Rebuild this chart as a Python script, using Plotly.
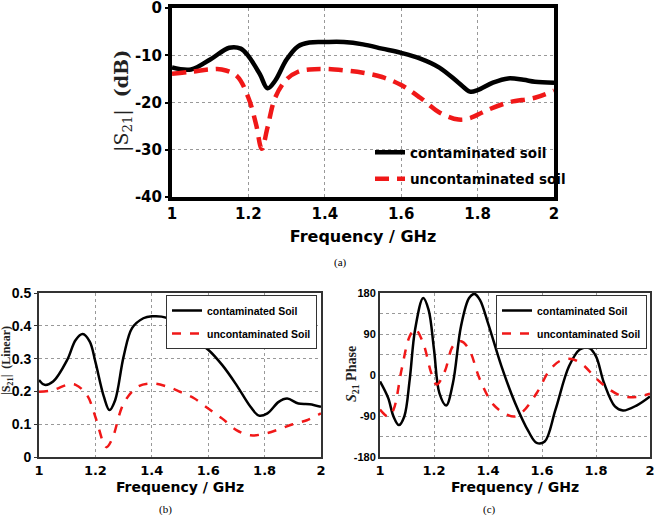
import plotly.graph_objects as go

# ---- (a) |S21| dB ----
fa_c = [1.0, 1.05, 1.1, 1.15, 1.18, 1.2, 1.23, 1.25, 1.27, 1.3, 1.33, 1.36, 1.4, 1.45, 1.5, 1.55, 1.6, 1.65, 1.7, 1.75, 1.78, 1.8, 1.84, 1.88, 1.92, 1.95, 2.0]
sa_c = [-12.6, -13.0, -10.9, -8.4, -8.6, -10.2, -14.0, -17.0, -15.4, -10.9, -8.1, -7.3, -7.2, -7.2, -7.7, -8.6, -9.5, -10.7, -12.6, -15.8, -17.7, -17.4, -15.8, -14.9, -15.2, -15.6, -15.8]
fa_u = [1.0, 1.05, 1.1, 1.13, 1.17, 1.2, 1.22, 1.235, 1.25, 1.27, 1.3, 1.33, 1.36, 1.4, 1.45, 1.5, 1.55, 1.6, 1.65, 1.7, 1.75, 1.78, 1.82, 1.88, 1.95, 2.0]
sa_u = [-13.9, -13.5, -13.0, -13.0, -14.4, -19.0, -24.6, -29.8, -25.3, -19.0, -15.1, -13.5, -13.0, -12.9, -13.2, -13.7, -14.6, -16.3, -19.0, -22.1, -23.6, -23.3, -21.8, -20.0, -19.0, -17.5]

# ---- (b) |S21| linear ----
fb_c = [1.0, 1.02, 1.05, 1.1, 1.13, 1.155, 1.18, 1.2, 1.23, 1.25, 1.27, 1.3, 1.33, 1.37, 1.4, 1.45, 1.5, 1.55, 1.6, 1.65, 1.7, 1.75, 1.78, 1.81, 1.85, 1.88, 1.92, 1.96, 2.0]
sb_c = [0.235, 0.22, 0.23, 0.296, 0.357, 0.375, 0.352, 0.29, 0.184, 0.143, 0.173, 0.306, 0.393, 0.423, 0.429, 0.425, 0.393, 0.357, 0.327, 0.28, 0.22, 0.153, 0.126, 0.133, 0.168, 0.178, 0.163, 0.161, 0.153]
fb_u = [1.0, 1.05, 1.1, 1.13, 1.17, 1.2, 1.23, 1.24, 1.26, 1.3, 1.35, 1.4, 1.45, 1.5, 1.55, 1.6, 1.65, 1.7, 1.75, 1.8, 1.85, 1.9, 1.95, 2.0]
sb_u = [0.199, 0.204, 0.22, 0.22, 0.189, 0.122, 0.04, 0.03, 0.056, 0.163, 0.214, 0.224, 0.216, 0.199, 0.179, 0.148, 0.117, 0.082, 0.066, 0.071, 0.084, 0.1, 0.112, 0.133]

# ---- (c) S21 phase ----
fc_c = [1.0, 1.03, 1.05, 1.07, 1.09, 1.11, 1.13, 1.16, 1.18, 1.2, 1.22, 1.245, 1.27, 1.3, 1.33, 1.35, 1.37, 1.4, 1.45, 1.5, 1.55, 1.58, 1.61, 1.65, 1.7, 1.74, 1.775, 1.8, 1.83, 1.87, 1.9, 1.95, 2.0]
pc_c = [-14, -50, -91, -110, -91, -10, 100, 169, 143, 56, -40, -67, -18, 107, 169, 178, 165, 114, 19, -61, -124, -149, -146, -76, 19, 56, 59, 41, -18, -69, -78, -67, -47]
fc_u = [1.0, 1.03, 1.05, 1.08, 1.11, 1.13, 1.16, 1.19, 1.21, 1.24, 1.27, 1.3, 1.33, 1.37, 1.42, 1.47, 1.5, 1.53, 1.58, 1.63, 1.67, 1.71, 1.75, 1.8, 1.85, 1.9, 1.95, 2.0]
pc_u = [-76, -91, -76, 12, 85, 101, 70, 4, -21, 8, 63, 74, 56, -10, -65, -87, -91, -80, -40, 12, 32, 35, 23, -7, -32, -47, -48, -41]

x_ticks = [1, 1.2, 1.4, 1.6, 1.8, 2]
x_ticktext = ["1", "1.2", "1.4", "1.6", "1.8", "2"]

RED = "#f01818"
W, H = 659, 515

fig = go.Figure()

def dom_x(a, b):
    return [a / W, b / W]

def dom_y(top, bot):
    return [1 - bot / H, 1 - top / H]

fig.add_trace(go.Scatter(x=fa_c, y=sa_c, mode="lines", name="contaminated soil", legendgroup="a1",
                         line=dict(color="black", width=4.5, shape="spline", smoothing=1.0),
                         xaxis="x", yaxis="y", legend="legend"))
fig.add_trace(go.Scatter(x=fa_u, y=sa_u, mode="lines", name="uncontaminated soil", legendgroup="a2",
                         line=dict(color=RED, width=4.5, dash="14px,8px", shape="spline", smoothing=1.0),
                         xaxis="x", yaxis="y", legend="legend"))
fig.add_trace(go.Scatter(x=fb_c, y=sb_c, mode="lines", name="contaminated Soil", legendgroup="b1",
                         line=dict(color="black", width=2.5, shape="spline", smoothing=1.0),
                         xaxis="x2", yaxis="y2", legend="legend2"))
fig.add_trace(go.Scatter(x=fb_u, y=sb_u, mode="lines", name="uncontaminated Soil", legendgroup="b2",
                         line=dict(color=RED, width=2.5, dash="dash", shape="spline", smoothing=1.0),
                         xaxis="x2", yaxis="y2", legend="legend2"))
fig.add_trace(go.Scatter(x=fc_c, y=pc_c, mode="lines", name="contaminated Soil", legendgroup="c1",
                         line=dict(color="black", width=2.5, shape="spline", smoothing=1.0),
                         xaxis="x3", yaxis="y3", legend="legend3"))
fig.add_trace(go.Scatter(x=fc_u, y=pc_u, mode="lines", name="uncontaminated Soil", legendgroup="c2",
                         line=dict(color=RED, width=2.5, dash="dash", shape="spline", smoothing=1.0),
                         xaxis="x3", yaxis="y3", legend="legend3"))

BOLD = "DejaVu Sans"
NARROW = "Liberation Sans"

def xaxis(domain, anchor, lw, col, fs, tfs, standoff):
    return dict(domain=domain, anchor=anchor, range=[1, 2], tickvals=x_ticks, ticktext=x_ticktext,
                showline=True, linewidth=lw, linecolor=col, mirror=True, automargin=False,
                showgrid=True, gridcolor="#999999", griddash="dot", gridwidth=1,
                ticks="", zeroline=False, ticklabeloverflow="allow",
                tickfont=dict(family=BOLD, size=fs, color="black", weight="bold"),
                title=dict(text="Frequency / GHz", standoff=standoff,
                           font=dict(family=BOLD, size=tfs, color="black", weight="bold")))

fig.update_layout(
    width=W, height=H, margin=dict(l=0, r=0, t=0, b=0, autoexpand=False),
    paper_bgcolor="white", plot_bgcolor="white",
    xaxis=xaxis(dom_x(172, 554), "y", 4, "black", 15, 16, 10),
    yaxis=dict(domain=dom_y(8, 197), anchor="x", range=[-40, 0], tickvals=[-40, -30, -20, -10, 0],
               ticktext=["-40", "-30", "-20", "-10", "0"], automargin=False, ticklabeloverflow="allow",
               showline=True, linewidth=4, linecolor="black", mirror=True,
               showgrid=True, gridcolor="#999999", griddash="dot", gridwidth=1, zeroline=False,
               ticks="outside", ticklen=3, tickwidth=2, tickcolor="black",
               tickfont=dict(family=BOLD, size=15, color="black", weight="bold")),
    xaxis2=xaxis(dom_x(39, 321), "y2", 2, "#333333", 13, 14, 6),
    yaxis2=dict(domain=dom_y(293, 457), anchor="x2", range=[0, 0.5], tickvals=[0, 0.1, 0.2, 0.3, 0.4, 0.5],
                ticktext=["0", "0.1", "0.2", "0.3", "0.4", "0.5"], automargin=False, ticklabeloverflow="allow",
                showline=True, linewidth=2, linecolor="#333333", mirror=True,
                showgrid=True, gridcolor="#999999", griddash="dot", gridwidth=1, zeroline=False,
                ticks="outside", ticklen=3, tickwidth=1, tickcolor="#333",
                tickfont=dict(family="Liberation Sans", size=14, color="black", weight="bold")),
    xaxis3=xaxis(dom_x(380, 650), "y3", 2, "#333333", 13, 14, 6),
    yaxis3=dict(domain=dom_y(293, 457), anchor="x3", range=[-180, 180], tickvals=[-180, -90, 0, 90, 180],
                ticktext=["-180", "-90", "0", "90", "180"], automargin=False, ticklabeloverflow="allow",
                showline=True, linewidth=2, linecolor="#333333", mirror=True,
                showgrid=True, gridcolor="#999999", griddash="dot", gridwidth=1, zeroline=False,
                ticks="",
                minor=dict(tickvals=[-135, -45, 45, 135], showgrid=True, gridcolor="#999999", griddash="dot"),
                tickfont=dict(family=NARROW, size=11, color="black", weight="bold")),
    legend=dict(x=370 / W, y=1 - 137 / H, xanchor="left", yanchor="top", bgcolor="rgba(255,255,255,0)",
                borderwidth=0, font=dict(family=BOLD, size=13.5, color="black", weight="bold"),
                itemwidth=30, tracegroupgap=6),
    legend2=dict(x=317 / W, y=1 - 295 / H, xanchor="right", yanchor="top", bgcolor="white",
                 bordercolor="#333", borderwidth=1,
                 font=dict(family=NARROW, size=10.5, color="black", weight="bold"),
                 itemwidth=30, tracegroupgap=4),
    legend3=dict(x=647 / W, y=1 - 295 / H, xanchor="right", yanchor="top", bgcolor="white",
                 bordercolor="#333", borderwidth=1,
                 font=dict(family=NARROW, size=10.5, color="black", weight="bold"),
                 itemwidth=30, tracegroupgap=4),
    showlegend=True,
)

# y-axis titles
fig.add_annotation(text="|S<sub>21</sub>|  <b>(dB)</b>", x=122 / W, y=1 - 101 / H, xref="paper", yref="paper",
                   xanchor="center", yanchor="middle", textangle=-90, showarrow=False,
                   font=dict(family="DejaVu Serif, Liberation Serif", size=19, color="#222"))
fig.add_annotation(text="<b>|S<sub>21</sub>|  (Linear)</b>", x=7 / W, y=1 - 361 / H, xref="paper", yref="paper",
                   xanchor="center", yanchor="middle", textangle=-90, showarrow=False,
                   font=dict(family="Liberation Serif, DejaVu Serif", size=12, color="#222"))
fig.add_annotation(text="<b><i>S</i><sub>21</sub> Phase</b>", x=352 / W, y=1 - 374 / H, xref="paper", yref="paper",
                   xanchor="center", yanchor="middle", textangle=-90, showarrow=False,
                   font=dict(family="Liberation Serif, DejaVu Serif", size=14, color="#222"))

for txt, px, py in [("(a)", 340, 262), ("(b)", 165, 509), ("(c)", 490, 509)]:
    fig.add_annotation(text=txt, x=px / W, y=1 - py / H, xref="paper", yref="paper",
                       xanchor="center", yanchor="middle",
                       showarrow=False, font=dict(family="Liberation Serif", size=11, color="black"))

fig.write_html("out.html")
